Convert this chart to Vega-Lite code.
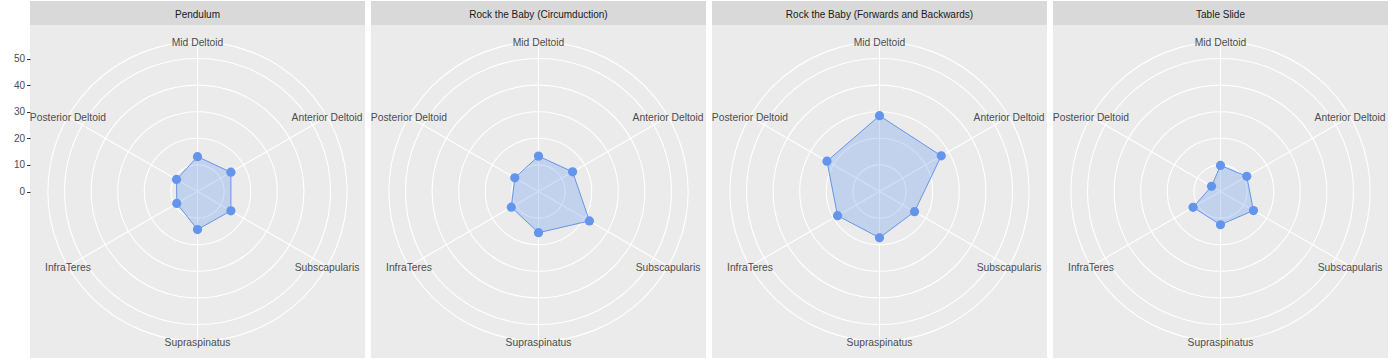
{
  "$schema": "https://vega.github.io/schema/vega-lite/v6.json",
  "padding": {"left": 13, "top": 1, "right": 0, "bottom": 0},
  "background": "white",
  "spacing": 6,
  "bounds": "flush",
  "datasets": {
    "points": [
      {"exercise": "Pendulum", "muscle": "Mid Deltoid", "value": 13.1},
      {"exercise": "Pendulum", "muscle": "Anterior Deltoid", "value": 14.5},
      {"exercise": "Pendulum", "muscle": "Subscapularis", "value": 14.5},
      {"exercise": "Pendulum", "muscle": "Supraspinatus", "value": 14.3},
      {"exercise": "Pendulum", "muscle": "InfraTeres", "value": 9.0},
      {"exercise": "Pendulum", "muscle": "Posterior Deltoid", "value": 9.1},
      {"exercise": "Rock the Baby (Circumduction)", "muscle": "Mid Deltoid", "value": 13.3},
      {"exercise": "Rock the Baby (Circumduction)", "muscle": "Anterior Deltoid", "value": 14.8},
      {"exercise": "Rock the Baby (Circumduction)", "muscle": "Subscapularis", "value": 22.1},
      {"exercise": "Rock the Baby (Circumduction)", "muscle": "Supraspinatus", "value": 15.5},
      {"exercise": "Rock the Baby (Circumduction)", "muscle": "InfraTeres", "value": 11.8},
      {"exercise": "Rock the Baby (Circumduction)", "muscle": "Posterior Deltoid", "value": 10.3},
      {"exercise": "Rock the Baby (Forwards and Backwards)", "muscle": "Mid Deltoid", "value": 28.5},
      {"exercise": "Rock the Baby (Forwards and Backwards)", "muscle": "Anterior Deltoid", "value": 26.8},
      {"exercise": "Rock the Baby (Forwards and Backwards)", "muscle": "Subscapularis", "value": 15.2},
      {"exercise": "Rock the Baby (Forwards and Backwards)", "muscle": "Supraspinatus", "value": 17.4},
      {"exercise": "Rock the Baby (Forwards and Backwards)", "muscle": "InfraTeres", "value": 18.2},
      {"exercise": "Rock the Baby (Forwards and Backwards)", "muscle": "Posterior Deltoid", "value": 22.8},
      {"exercise": "Table Slide", "muscle": "Mid Deltoid", "value": 9.8},
      {"exercise": "Table Slide", "muscle": "Anterior Deltoid", "value": 11.4},
      {"exercise": "Table Slide", "muscle": "Subscapularis", "value": 14.3},
      {"exercise": "Table Slide", "muscle": "Supraspinatus", "value": 12.5},
      {"exercise": "Table Slide", "muscle": "InfraTeres", "value": 11.9},
      {"exercise": "Table Slide", "muscle": "Posterior Deltoid", "value": 3.9}
    ],
    "rings": [
      {"r": 10}, {"r": 20}, {"r": 30}, {"r": 40}, {"r": 50}, {"r": 56.25}
    ]
  },
  "config": {
    "view": {"fill": "#ebebeb", "stroke": null},
    "axisY": {"domain": false, "grid": false, "tickSize": 3.5, "tickColor": "#333333", "tickWidth": 1, "labelColor": "#4d4d4d", "labelFontSize": 10, "labelFont": "Liberation Sans", "labelPadding": 2},
    "text": {"font": "Liberation Sans"}
  },
  "hconcat": [
    {
      "width": 335, "height": 357,
      "data": {"name": "points"},
      "transform": [
        {"filter": "datum.exercise === 'Pendulum'"},
        {"calculate": "indexof(['Mid Deltoid','Anterior Deltoid','Subscapularis','Supraspinatus','InfraTeres','Posterior Deltoid'], datum.muscle)", "as": "idx"},
        {"calculate": "datum.idx * PI / 3", "as": "ang"},
        {"calculate": "datum.value * sin(datum.ang)", "as": "px"},
        {"calculate": "datum.value * cos(datum.ang)", "as": "py"},
        {"calculate": "56.25 * sin(datum.ang)", "as": "ex"},
        {"calculate": "56.25 * cos(datum.ang)", "as": "ey"},
        {"calculate": "0", "as": "o"},
        {"calculate": "62.594", "as": "ya"},
        {"calculate": "71.617", "as": "yb"},
        {"calculate": "66.9", "as": "ty"}
      ],
      "layer": [
        {
          "data": {"name": "rings"},
          "transform": [{"calculate": "0", "as": "o"}],
          "mark": {"type": "point", "shape": "circle", "filled": false, "stroke": "white", "strokeWidth": 1.1, "opacity": 1},
          "encoding": {
            "x": {"field": "o", "type": "quantitative", "scale": {"domain": [-62.97, 62.97], "nice": false, "zero": false}, "axis": null},
            "y": {"field": "o", "type": "quantitative", "scale": {"domain": [-62.594, 71.617], "nice": false, "zero": false}, "axis": {"values": [0, 10, 20, 30, 40, 50], "title": null}},
            "size": {"field": "r", "type": "quantitative", "scale": {"type": "pow", "exponent": 2, "domain": [0, 56.25], "range": [0, 89552]}, "legend": null}
          }
        },
        {
          "mark": {"type": "rule", "stroke": "white", "strokeWidth": 1.1},
          "encoding": {
            "x": {"field": "o", "type": "quantitative", "axis": null},
            "y": {"field": "o", "type": "quantitative", "axis": {"values": [0, 10, 20, 30, 40, 50], "title": null}},
            "x2": {"field": "ex"},
            "y2": {"field": "ey"}
          }
        },
        {
          "transform": [{"filter": "datum.muscle === 'Mid Deltoid'"}],
          "mark": {"type": "rect", "fill": "#d9d9d9"},
          "encoding": {
            "y": {"field": "ya", "type": "quantitative", "axis": {"values": [0, 10, 20, 30, 40, 50], "title": null}},
            "y2": {"field": "yb"}
          }
        },
        {
          "mark": {"type": "line", "interpolate": "linear-closed", "stroke": "#6495ED", "strokeWidth": 1, "fill": "#6495ED", "fillOpacity": 0.3},
          "encoding": {
            "x": {"field": "px", "type": "quantitative", "axis": null},
            "y": {"field": "py", "type": "quantitative", "axis": {"values": [0, 10, 20, 30, 40, 50], "title": null}},
            "order": {"field": "idx", "type": "quantitative"}
          }
        },
        {
          "mark": {"type": "point", "shape": "circle", "filled": true, "color": "#6495ED", "opacity": 1, "size": 85},
          "encoding": {
            "x": {"field": "px", "type": "quantitative", "axis": null},
            "y": {"field": "py", "type": "quantitative", "axis": {"values": [0, 10, 20, 30, 40, 50], "title": null}}
          }
        },
        {
          "mark": {"type": "text", "fontSize": 10.3, "color": "#4d4d4d", "align": "center", "baseline": "middle", "dy": 1.5},
          "encoding": {
            "x": {"field": "ex", "type": "quantitative", "axis": null},
            "y": {"field": "ey", "type": "quantitative", "axis": {"values": [0, 10, 20, 30, 40, 50], "title": null}},
            "text": {"field": "muscle"}
          }
        },
        {
          "transform": [{"filter": "datum.muscle === 'Mid Deltoid'"}],
          "mark": {"type": "text", "fontSize": 10, "color": "#1a1a1a", "align": "center", "baseline": "middle", "dy": 1},
          "encoding": {
            "x": {"field": "o", "type": "quantitative", "axis": null},
            "y": {"field": "ty", "type": "quantitative", "axis": {"values": [0, 10, 20, 30, 40, 50], "title": null}},
            "text": {"field": "exercise"}
          }
        }
      ]
    },
    {
      "width": 335, "height": 357,
      "data": {"name": "points"},
      "transform": [
        {"filter": "datum.exercise === 'Rock the Baby (Circumduction)'"},
        {"calculate": "indexof(['Mid Deltoid','Anterior Deltoid','Subscapularis','Supraspinatus','InfraTeres','Posterior Deltoid'], datum.muscle)", "as": "idx"},
        {"calculate": "datum.idx * PI / 3", "as": "ang"},
        {"calculate": "datum.value * sin(datum.ang)", "as": "px"},
        {"calculate": "datum.value * cos(datum.ang)", "as": "py"},
        {"calculate": "56.25 * sin(datum.ang)", "as": "ex"},
        {"calculate": "56.25 * cos(datum.ang)", "as": "ey"},
        {"calculate": "0", "as": "o"},
        {"calculate": "62.594", "as": "ya"},
        {"calculate": "71.617", "as": "yb"},
        {"calculate": "66.9", "as": "ty"}
      ],
      "layer": [
        {
          "data": {"name": "rings"},
          "transform": [{"calculate": "0", "as": "o"}],
          "mark": {"type": "point", "shape": "circle", "filled": false, "stroke": "white", "strokeWidth": 1.1, "opacity": 1},
          "encoding": {
            "x": {"field": "o", "type": "quantitative", "scale": {"domain": [-62.97, 62.97], "nice": false, "zero": false}, "axis": null},
            "y": {"field": "o", "type": "quantitative", "scale": {"domain": [-62.594, 71.617], "nice": false, "zero": false}, "axis": null},
            "size": {"field": "r", "type": "quantitative", "scale": {"type": "pow", "exponent": 2, "domain": [0, 56.25], "range": [0, 89552]}, "legend": null}
          }
        },
        {
          "mark": {"type": "rule", "stroke": "white", "strokeWidth": 1.1},
          "encoding": {
            "x": {"field": "o", "type": "quantitative", "axis": null},
            "y": {"field": "o", "type": "quantitative", "axis": null},
            "x2": {"field": "ex"},
            "y2": {"field": "ey"}
          }
        },
        {
          "transform": [{"filter": "datum.muscle === 'Mid Deltoid'"}],
          "mark": {"type": "rect", "fill": "#d9d9d9"},
          "encoding": {
            "y": {"field": "ya", "type": "quantitative", "axis": null},
            "y2": {"field": "yb"}
          }
        },
        {
          "mark": {"type": "line", "interpolate": "linear-closed", "stroke": "#6495ED", "strokeWidth": 1, "fill": "#6495ED", "fillOpacity": 0.3},
          "encoding": {
            "x": {"field": "px", "type": "quantitative", "axis": null},
            "y": {"field": "py", "type": "quantitative", "axis": null},
            "order": {"field": "idx", "type": "quantitative"}
          }
        },
        {
          "mark": {"type": "point", "shape": "circle", "filled": true, "color": "#6495ED", "opacity": 1, "size": 85},
          "encoding": {
            "x": {"field": "px", "type": "quantitative", "axis": null},
            "y": {"field": "py", "type": "quantitative", "axis": null}
          }
        },
        {
          "mark": {"type": "text", "fontSize": 10.3, "color": "#4d4d4d", "align": "center", "baseline": "middle", "dy": 1.5},
          "encoding": {
            "x": {"field": "ex", "type": "quantitative", "axis": null},
            "y": {"field": "ey", "type": "quantitative", "axis": null},
            "text": {"field": "muscle"}
          }
        },
        {
          "transform": [{"filter": "datum.muscle === 'Mid Deltoid'"}],
          "mark": {"type": "text", "fontSize": 10, "color": "#1a1a1a", "align": "center", "baseline": "middle", "dy": 1},
          "encoding": {
            "x": {"field": "o", "type": "quantitative", "axis": null},
            "y": {"field": "ty", "type": "quantitative", "axis": null},
            "text": {"field": "exercise"}
          }
        }
      ]
    },
    {
      "width": 335, "height": 357,
      "data": {"name": "points"},
      "transform": [
        {"filter": "datum.exercise === 'Rock the Baby (Forwards and Backwards)'"},
        {"calculate": "indexof(['Mid Deltoid','Anterior Deltoid','Subscapularis','Supraspinatus','InfraTeres','Posterior Deltoid'], datum.muscle)", "as": "idx"},
        {"calculate": "datum.idx * PI / 3", "as": "ang"},
        {"calculate": "datum.value * sin(datum.ang)", "as": "px"},
        {"calculate": "datum.value * cos(datum.ang)", "as": "py"},
        {"calculate": "56.25 * sin(datum.ang)", "as": "ex"},
        {"calculate": "56.25 * cos(datum.ang)", "as": "ey"},
        {"calculate": "0", "as": "o"},
        {"calculate": "62.594", "as": "ya"},
        {"calculate": "71.617", "as": "yb"},
        {"calculate": "66.9", "as": "ty"}
      ],
      "layer": [
        {
          "data": {"name": "rings"},
          "transform": [{"calculate": "0", "as": "o"}],
          "mark": {"type": "point", "shape": "circle", "filled": false, "stroke": "white", "strokeWidth": 1.1, "opacity": 1},
          "encoding": {
            "x": {"field": "o", "type": "quantitative", "scale": {"domain": [-62.97, 62.97], "nice": false, "zero": false}, "axis": null},
            "y": {"field": "o", "type": "quantitative", "scale": {"domain": [-62.594, 71.617], "nice": false, "zero": false}, "axis": null},
            "size": {"field": "r", "type": "quantitative", "scale": {"type": "pow", "exponent": 2, "domain": [0, 56.25], "range": [0, 89552]}, "legend": null}
          }
        },
        {
          "mark": {"type": "rule", "stroke": "white", "strokeWidth": 1.1},
          "encoding": {
            "x": {"field": "o", "type": "quantitative", "axis": null},
            "y": {"field": "o", "type": "quantitative", "axis": null},
            "x2": {"field": "ex"},
            "y2": {"field": "ey"}
          }
        },
        {
          "transform": [{"filter": "datum.muscle === 'Mid Deltoid'"}],
          "mark": {"type": "rect", "fill": "#d9d9d9"},
          "encoding": {
            "y": {"field": "ya", "type": "quantitative", "axis": null},
            "y2": {"field": "yb"}
          }
        },
        {
          "mark": {"type": "line", "interpolate": "linear-closed", "stroke": "#6495ED", "strokeWidth": 1, "fill": "#6495ED", "fillOpacity": 0.3},
          "encoding": {
            "x": {"field": "px", "type": "quantitative", "axis": null},
            "y": {"field": "py", "type": "quantitative", "axis": null},
            "order": {"field": "idx", "type": "quantitative"}
          }
        },
        {
          "mark": {"type": "point", "shape": "circle", "filled": true, "color": "#6495ED", "opacity": 1, "size": 85},
          "encoding": {
            "x": {"field": "px", "type": "quantitative", "axis": null},
            "y": {"field": "py", "type": "quantitative", "axis": null}
          }
        },
        {
          "mark": {"type": "text", "fontSize": 10.3, "color": "#4d4d4d", "align": "center", "baseline": "middle", "dy": 1.5},
          "encoding": {
            "x": {"field": "ex", "type": "quantitative", "axis": null},
            "y": {"field": "ey", "type": "quantitative", "axis": null},
            "text": {"field": "muscle"}
          }
        },
        {
          "transform": [{"filter": "datum.muscle === 'Mid Deltoid'"}],
          "mark": {"type": "text", "fontSize": 10, "color": "#1a1a1a", "align": "center", "baseline": "middle", "dy": 1},
          "encoding": {
            "x": {"field": "o", "type": "quantitative", "axis": null},
            "y": {"field": "ty", "type": "quantitative", "axis": null},
            "text": {"field": "exercise"}
          }
        }
      ]
    },
    {
      "width": 335, "height": 357,
      "data": {"name": "points"},
      "transform": [
        {"filter": "datum.exercise === 'Table Slide'"},
        {"calculate": "indexof(['Mid Deltoid','Anterior Deltoid','Subscapularis','Supraspinatus','InfraTeres','Posterior Deltoid'], datum.muscle)", "as": "idx"},
        {"calculate": "datum.idx * PI / 3", "as": "ang"},
        {"calculate": "datum.value * sin(datum.ang)", "as": "px"},
        {"calculate": "datum.value * cos(datum.ang)", "as": "py"},
        {"calculate": "56.25 * sin(datum.ang)", "as": "ex"},
        {"calculate": "56.25 * cos(datum.ang)", "as": "ey"},
        {"calculate": "0", "as": "o"},
        {"calculate": "62.594", "as": "ya"},
        {"calculate": "71.617", "as": "yb"},
        {"calculate": "66.9", "as": "ty"}
      ],
      "layer": [
        {
          "data": {"name": "rings"},
          "transform": [{"calculate": "0", "as": "o"}],
          "mark": {"type": "point", "shape": "circle", "filled": false, "stroke": "white", "strokeWidth": 1.1, "opacity": 1},
          "encoding": {
            "x": {"field": "o", "type": "quantitative", "scale": {"domain": [-62.97, 62.97], "nice": false, "zero": false}, "axis": null},
            "y": {"field": "o", "type": "quantitative", "scale": {"domain": [-62.594, 71.617], "nice": false, "zero": false}, "axis": null},
            "size": {"field": "r", "type": "quantitative", "scale": {"type": "pow", "exponent": 2, "domain": [0, 56.25], "range": [0, 89552]}, "legend": null}
          }
        },
        {
          "mark": {"type": "rule", "stroke": "white", "strokeWidth": 1.1},
          "encoding": {
            "x": {"field": "o", "type": "quantitative", "axis": null},
            "y": {"field": "o", "type": "quantitative", "axis": null},
            "x2": {"field": "ex"},
            "y2": {"field": "ey"}
          }
        },
        {
          "transform": [{"filter": "datum.muscle === 'Mid Deltoid'"}],
          "mark": {"type": "rect", "fill": "#d9d9d9"},
          "encoding": {
            "y": {"field": "ya", "type": "quantitative", "axis": null},
            "y2": {"field": "yb"}
          }
        },
        {
          "mark": {"type": "line", "interpolate": "linear-closed", "stroke": "#6495ED", "strokeWidth": 1, "fill": "#6495ED", "fillOpacity": 0.3},
          "encoding": {
            "x": {"field": "px", "type": "quantitative", "axis": null},
            "y": {"field": "py", "type": "quantitative", "axis": null},
            "order": {"field": "idx", "type": "quantitative"}
          }
        },
        {
          "mark": {"type": "point", "shape": "circle", "filled": true, "color": "#6495ED", "opacity": 1, "size": 85},
          "encoding": {
            "x": {"field": "px", "type": "quantitative", "axis": null},
            "y": {"field": "py", "type": "quantitative", "axis": null}
          }
        },
        {
          "mark": {"type": "text", "fontSize": 10.3, "color": "#4d4d4d", "align": "center", "baseline": "middle", "dy": 1.5},
          "encoding": {
            "x": {"field": "ex", "type": "quantitative", "axis": null},
            "y": {"field": "ey", "type": "quantitative", "axis": null},
            "text": {"field": "muscle"}
          }
        },
        {
          "transform": [{"filter": "datum.muscle === 'Mid Deltoid'"}],
          "mark": {"type": "text", "fontSize": 10, "color": "#1a1a1a", "align": "center", "baseline": "middle", "dy": 1},
          "encoding": {
            "x": {"field": "o", "type": "quantitative", "axis": null},
            "y": {"field": "ty", "type": "quantitative", "axis": null},
            "text": {"field": "exercise"}
          }
        }
      ]
    }
  ]
}
